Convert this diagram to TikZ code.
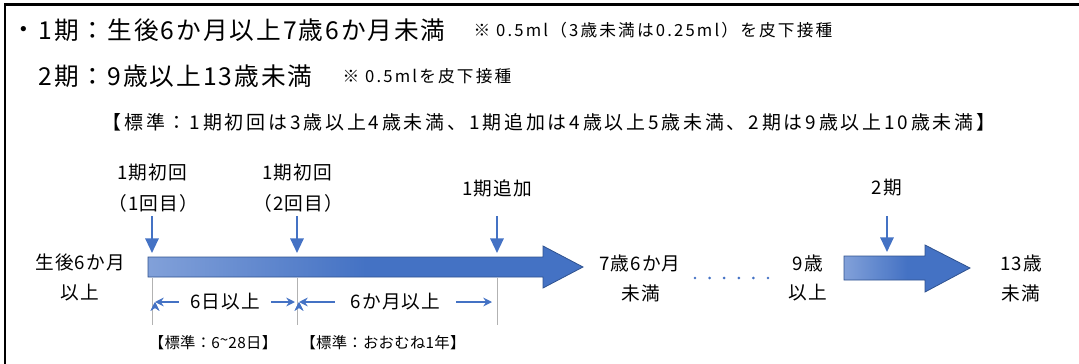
\documentclass[tikz,border=0pt]{standalone}
\usepackage{fontspec}
\setmainfont{Noto Sans CJK JP}
\usepackage{tikz}
\usepackage{xcolor}
\definecolor{ofblue}{RGB}{68,114,196}
\definecolor{ofdark}{RGB}{47,82,143}
\definecolor{oflight}{RGB}{150,176,224}
\usetikzlibrary{positioning,arrows.meta}
\tikzset{
	hdr/.style={inner sep=1pt, font=\fontsize{18.5}{20}\selectfont\addfontfeature{LetterSpace=8}},
	note/.style={inner sep=1pt, font=\fontsize{12.5}{14}\selectfont\addfontfeature{LetterSpace=13}},
	stdline/.style={inner sep=1pt, font=\fontsize{14.2}{16}\selectfont\addfontfeature{LetterSpace=15}},
	lbl/.style={inner sep=1pt, font=\fontsize{14}{16}\selectfont\addfontfeature{LetterSpace=6}},
	small/.style={inner sep=1pt, font=\fontsize{11.5}{13}\selectfont\addfontfeature{LetterSpace=2}},
	downarr/.style={draw=ofblue, line width=1.6pt, -{Triangle[length=11pt,width=10pt]}},
	bigarrow/.style={draw=ofdark, line width=0.6pt, left color=oflight!75!ofblue, right color=ofblue, middle color=ofblue},
	guide/.style={draw=gray!60, line width=0.7pt},
	dimline/.style={draw=ofblue, line width=1.2pt, {Stealth[length=6.5pt,width=6.5pt]}-{Stealth[length=6.5pt,width=6.5pt]}},
	dimlabel/.style={lbl, fill=white, inner xsep=8pt, inner ysep=3pt}
}

\begin{document}
\begin{tikzpicture}[x=0.75pt,y=-0.75pt]
				\useasboundingbox (0,0) rectangle (1079,364);
				% frame, only top and left edges are visible
				\draw[line width=2.2pt] (5,364) -- (5,4.5) -- (1079,4.5);
				% header
				\node[hdr, anchor=west] (bullet) at (10,33) {・};
				\node[hdr, anchor=west] (p1) at (37,30) {1期：生後6か月以上7歳6か月未満};
				\node[note, anchor=west] (n1) at (472,30) {※ 0.5ml（3歳未満は0.25ml）を皮下接種};
				\node[hdr, anchor=west] (p2) at (37,76) {2期：9歳以上13歳未満};
				\node[note, anchor=west] (n2) at (341,76) {※ 0.5mlを皮下接種};
				\node[stdline, anchor=west] (std) at (101,122) {【標準：1期初回は3歳以上4歳未満、1期追加は4歳以上5歳未満、2期は9歳以上10歳未満】};
				% dose labels
				\node[lbl] (d1a) at (152,172) {1期初回};
				\node[lbl] (d1b) at (153,203) {（1回目）};
				\node[lbl] (d2a) at (297,172) {1期初回};
				\node[lbl] (d2b) at (298,203) {（2回目）};
				\node[lbl] (d3) at (497,188) {1期追加};
				\node[lbl] (d4) at (887,188) {2期};
				\coordinate []  (a1) at (152,216);
				\coordinate []  (b1) at (152,253);
				\coordinate []  (a2) at (297,216);
				\coordinate []  (b2) at (297,253);
				\coordinate []  (a3) at (497,216);
				\coordinate []  (b3) at (497,253);
				\coordinate []  (a4) at (887,216);
				\coordinate []  (b4) at (887,252);
				% period arrows
				\shadedraw[bigarrow] (148,257) -- (543,257) -- (543,246) -- (583,267) -- (543,288) -- (543,277) -- (148,277) -- cycle;
				\shadedraw[bigarrow] (844,256) -- (925,256) -- (925,245) -- (970,268) -- (925,292) -- (925,280) -- (844,280) -- cycle;
				\draw[downarr] (a1) -- (b1);
				\draw[downarr] (a2) -- (b2);
				\draw[downarr] (a3) -- (b3);
				\draw[downarr] (a4) -- (b4);
				% ages
				\node[lbl] (age0) at (80,262) {生後6か月};
				\node[lbl] (age0b) at (80,293) {以上};
				\node[lbl] (age1) at (640,263) {7歳6か月};
				\node[lbl] (age1b) at (641,293) {未満};
				\node[lbl] (age2) at (808,263) {9歳};
				\node[lbl] (age2b) at (808,293) {以上};
				\node[lbl] (age3) at (1021,263) {13歳};
				\node[lbl] (age3b) at (1021,293) {未満};
				\coordinate []  (gapL) at (695,278);
				\coordinate []  (gapR) at (768,278);
				\draw[ofblue, line width=2.2pt, line cap=round, dash pattern=on 0pt off 10.95pt] (gapL) -- (gapR);
				% intervals
				\coordinate []  (g1) at (152,278);
				\coordinate []  (g1e) at (152,325);
				\coordinate []  (g2) at (297,278);
				\coordinate []  (g2e) at (297,325);
				\coordinate []  (g3) at (497,278);
				\coordinate []  (g3e) at (497,325);
				\draw[guide] (g1) -- (g1e);
				\draw[guide] (g2) -- (g2e);
				\draw[guide] (g3) -- (g3e);
				\coordinate []  (i1) at (155,302);
				\coordinate []  (i2) at (295,302);
				\coordinate []  (i3) at (299,302);
				\coordinate []  (i4) at (492,302);
				\path[dimline] (i1) edge[dimline] node[dimlabel, anchor=center, pos=0.5] (w1) {6日以上} (i2);
				\path[dimline] (i3) edge[dimline] node[dimlabel, anchor=center, pos=0.5, inner xsep=12pt] (w2) {6か月以上} (i4);
				\node[small] (std1) at (213,343) {【標準：6\raisebox{0.35ex}{\textasciitilde}28日】};
				\node[small] (std2) at (383,343) {【標準：おおむね1年】};
			\end{tikzpicture}
\end{document}
